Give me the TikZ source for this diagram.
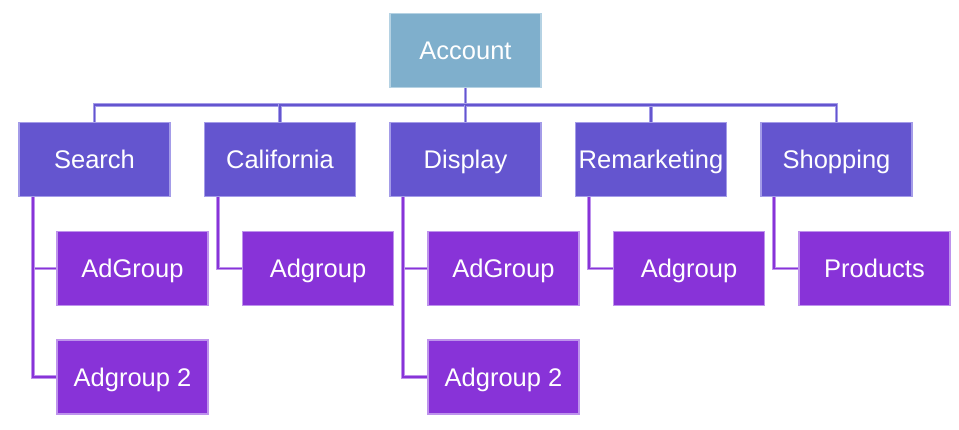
\documentclass[tikz,border=0pt]{standalone}
\usepackage{fontspec}
\setmainfont{Liberation Sans}
\definecolor{accfill}{HTML}{7FAFCC}
\definecolor{accline}{HTML}{B5D2E3}
\definecolor{lvtwo}{HTML}{6455CF}
\definecolor{lvtwoline}{HTML}{A49CE8}
\definecolor{lvthree}{HTML}{8833D8}
\definecolor{lvthreeline}{HTML}{BE93EC}
\begin{document}
\begin{tikzpicture}[x=1pt,y=-1pt,
  box/.style={rectangle,inner sep=0pt,minimum width=151pt,minimum height=74pt,
    text height=25pt,text depth=6pt,
    line width=1.6pt,text=white,font=\fontsize{25.5}{30}\selectfont},
  accbox/.style={box,fill=accfill,draw=accline},
  twobox/.style={box,fill=lvtwo,draw=lvtwoline},
  threebox/.style={box,fill=lvthree,draw=lvthreeline},
  busline/.style={line width=1.8pt,draw=lvtwo,preaction={draw=lvtwoline,line width=3.8pt}},
  subline/.style={line width=1.8pt,draw=lvthree,preaction={draw=lvthreeline,line width=3.8pt}}]
\useasboundingbox (0,0) rectangle (959,430);
\node[accbox] (acc) at (465.5,50.5) {Account};
\node[twobox] (search) at (94.5,159.5) {Search};
\node[twobox] (calif) at (280,159.5) {California};
\node[twobox] (disp) at (465.5,159.5) {Display};
\node[twobox] (remk) at (651,159.5) {Remarketing};
\node[twobox] (shop) at (836.5,159.5) {Shopping};
\node[threebox] (sag) at (132.5,268.5) {AdGroup};
\node[threebox] (sag2) at (132.5,377) {Adgroup 2};
\node[threebox] (cag) at (318,268.5) {Adgroup};
\node[threebox] (dag) at (503.5,268.5) {AdGroup};
\node[threebox] (dag2) at (503.5,377) {Adgroup 2};
\node[threebox] (rag) at (689,268.5) {Adgroup};
\node[threebox] (prod) at (874.5,268.5) {Products};
\coordinate (bus) at (465.5,105);
\draw[busline] (acc.south) -- (bus) -| (search.north);
\draw[busline] (bus) -| (calif.north);
\draw[busline] (bus) -- (disp.north);
\draw[busline] (bus) -| (remk.north);
\draw[busline] (bus) -| (shop.north);
\draw[subline] ([xshift=15pt]search.south west) |- (sag.west);
\draw[subline] ([xshift=15pt]search.south west) |- (sag2.west);
\draw[subline] ([xshift=14pt]calif.south west) |- (cag.west);
\draw[subline] ([xshift=14pt]disp.south west) |- (dag.west);
\draw[subline] ([xshift=14pt]disp.south west) |- (dag2.west);
\draw[subline] ([xshift=14pt]remk.south west) |- (rag.west);
\draw[subline] ([xshift=14pt]shop.south west) |- (prod.west);
\end{tikzpicture}
\end{document}
